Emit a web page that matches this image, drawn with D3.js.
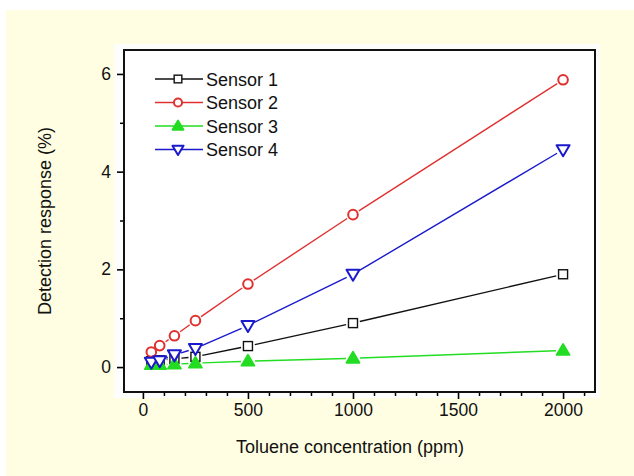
<!DOCTYPE html>
<html><head><meta charset="utf-8">
<script src="https://cdn.jsdelivr.net/npm/d3@7"></script>
<style>body{margin:0;background:#fff;}svg{display:block;font-family:"Liberation Sans",Arial,sans-serif;}</style>
</head><body>
<svg id="c" width="634" height="476"></svg>
<script>
const concentrations = [40, 80, 150, 250, 500, 1000, 2000];
const sensor1 = [0.12, 0.14, 0.17, 0.21, 0.43, 0.90, 1.90];
const sensor2 = [0.31, 0.44, 0.64, 0.95, 1.70, 3.12, 5.88];
const sensor3 = [0.05, 0.05, 0.06, 0.08, 0.12, 0.18, 0.34];
const sensor4 = [0.10, 0.13, 0.25, 0.38, 0.85, 1.90, 4.45];
const seriesNames = ["Sensor 1", "Sensor 2", "Sensor 3", "Sensor 4"];
const xTicks = [0, 500, 1000, 1500, 2000];
const yTicks = [0, 2, 4, 6];

const series = [
  {name: seriesNames[0], values: sensor1, color: "#111111", sym: "square", fill: "#fff"},
  {name: seriesNames[1], values: sensor2, color: "#e03030", sym: "circle", fill: "#fff"},
  {name: seriesNames[2], values: sensor3, color: "#22dd22", sym: "up", fill: "#22dd22"},
  {name: seriesNames[3], values: sensor4, color: "#1a1acc", sym: "down", fill: "#fff"}
];

const svg = d3.select("#c");
svg.append("rect").attr("x", 6).attr("y", 10).attr("width", 628).attr("height", 466).attr("fill", "#fffee2");
svg.append("rect").attr("x", 114).attr("y", 44).attr("width", 486).attr("height", 354).attr("fill", "#fdfdfb");

const L = 124, R = 595, T = 50, B = 392;
const x = d3.scaleLinear().domain([-90, 2152]).range([L, R]);
const y = d3.scaleLinear().domain([-0.51, 6.49]).range([B, T]);

svg.append("rect").attr("x", L).attr("y", T).attr("width", R - L).attr("height", B - T).attr("fill", "#fff");

const xMinor = d3.range(0, 2101, 100).filter(v => !xTicks.includes(v));
const yMinor = [1, 3, 5];
const g = svg.append("g");
g.append("g").attr("transform", `translate(0,${B})`)
  .call(d3.axisBottom(x).tickValues(xMinor).tickSize(4).tickFormat(""))
  .call(s => s.select(".domain").remove())
  .selectAll("line").attr("stroke-width", 1.5);
g.append("g").attr("transform", `translate(${L},0)`)
  .call(d3.axisLeft(y).tickValues(yMinor).tickSize(4).tickFormat(""))
  .call(s => s.select(".domain").remove())
  .selectAll("line").attr("stroke-width", 1.5);

const xa = g.append("g").attr("transform", `translate(0,${B})`)
  .call(d3.axisBottom(x).tickValues(xTicks).tickSize(7).tickPadding(5).tickFormat(d3.format("d")));
xa.select(".domain").remove();
xa.selectAll("line").attr("stroke-width", 1.6);
xa.selectAll("text").attr("font-size", 17.5).attr("fill", "#111").attr("font-family", "Liberation Sans, Arial, sans-serif");

const ya = g.append("g").attr("transform", `translate(${L},0)`)
  .call(d3.axisLeft(y).tickValues(yTicks).tickSize(7).tickPadding(6).tickFormat(d3.format("d")));
ya.select(".domain").remove();
ya.selectAll("line").attr("stroke-width", 1.6);
ya.selectAll("text").attr("font-size", 17.5).attr("fill", "#111").attr("font-family", "Liberation Sans, Arial, sans-serif");

svg.append("rect").attr("x", L).attr("y", T).attr("width", R - L).attr("height", B - T)
  .attr("fill", "none").attr("stroke", "#111").attr("stroke-width", 2);

function marker(sel, sym, cx, cy, color, fill, k) {
  k = k || 1;
  if (sym === "square") {
    sel.append("rect").attr("x", cx - 4.5 * k).attr("y", cy - 4.5 * k).attr("width", 9 * k).attr("height", 9 * k)
      .attr("fill", fill).attr("stroke", color).attr("stroke-width", 1.4);
  } else if (sym === "circle") {
    sel.append("circle").attr("cx", cx).attr("cy", cy).attr("r", 4.8 * k)
      .attr("fill", fill).attr("stroke", color).attr("stroke-width", 2);
  } else if (sym === "up") {
    const a = 6.5 * k, b = 4.5 * k;
    sel.append("path").attr("d", `M${cx},${cy - a}L${cx + a},${cy + b}L${cx - a},${cy + b}Z`)
      .attr("fill", fill).attr("stroke", color).attr("stroke-width", 1.8).attr("stroke-linejoin", "round");
  } else {
    const a = 6.5 * k, b = 4.5 * k;
    sel.append("path").attr("d", `M${cx},${cy + a}L${cx + a},${cy - b}L${cx - a},${cy - b}Z`)
      .attr("fill", fill).attr("stroke", color).attr("stroke-width", 2).attr("stroke-linejoin", "round");
  }
}

const plot = svg.append("g");
series.forEach(s => {
  const pts = concentrations.map((c, i) => [x(c), y(s.values[i])]);
  const gap = 7;
  for (let i = 0; i < pts.length - 1; i++) {
    const [x1, y1] = pts[i], [x2, y2] = pts[i + 1];
    const dx = x2 - x1, dy = y2 - y1, len = Math.hypot(dx, dy);
    if (len <= 2 * gap) continue;
    const ux = dx / len, uy = dy / len;
    plot.append("line").attr("x1", x1 + ux * gap).attr("y1", y1 + uy * gap)
      .attr("x2", x2 - ux * gap).attr("y2", y2 - uy * gap)
      .attr("stroke", s.color).attr("stroke-width", 1.4);
  }
});
series.forEach(s => {
  concentrations.forEach((c, i) => marker(plot, s.sym, x(c), y(s.values[i]), s.color, s.fill));
});

const leg = svg.append("g");
series.forEach((s, i) => {
  const ly = 79 + i * 23.5;
  leg.append("line").attr("x1", 155).attr("x2", 203).attr("y1", ly).attr("y2", ly)
    .attr("stroke", s.color).attr("stroke-width", 1.4);
  marker(leg, s.sym, 178, ly, s.color, s.fill, 0.85);
  leg.append("text").attr("x", 206).attr("y", ly + 6.5).attr("font-size", 18).attr("fill", "#111").text(s.name);
});

svg.append("text").attr("x", 350).attr("y", 453).attr("text-anchor", "middle")
  .attr("font-size", 18).attr("fill", "#111").text("Toluene concentration (ppm)");
svg.append("text").attr("transform", "translate(51,221) rotate(-90)").attr("text-anchor", "middle")
  .attr("font-size", 18).attr("fill", "#111").text("Detection response (%)");
</script>
</body></html>
